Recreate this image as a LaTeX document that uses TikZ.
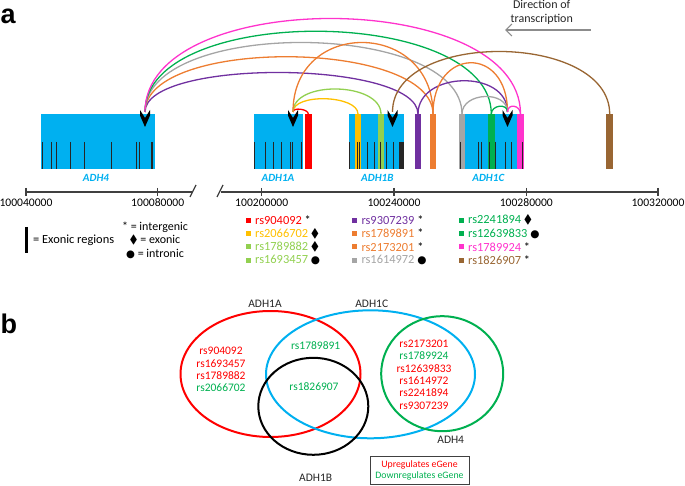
\documentclass[tikz,border=0pt]{standalone}
\usepackage{fontspec}
\usepackage{amssymb}
\setmainfont{Carlito}
\newfontfamily\symfont{DejaVu Sans}
\newfontfamily\panelfont{Liberation Sans}
\usetikzlibrary{arrows.meta,shapes.geometric}

\definecolor{adhblue}{RGB}{0,176,240}
\definecolor{snpred}{RGB}{255,0,0}
\definecolor{snpgold}{RGB}{255,192,0}
\definecolor{snplime}{RGB}{146,208,80}
\definecolor{snppurple}{RGB}{112,48,160}
\definecolor{snporange}{RGB}{237,125,49}
\definecolor{snpgray}{RGB}{165,165,165}
\definecolor{snpgreen}{RGB}{0,176,80}
\definecolor{snppink}{RGB}{255,51,204}
\definecolor{snpbrown}{RGB}{153,102,51}
\definecolor{axisgray}{RGB}{64,64,64}

\newcommand{\intergenic}{*}
\newcommand{\exonic}{$\blacklozenge$}
\newcommand{\intronic}{{\symfont\scalebox{0.85}{●}}}

\tikzset{
  geneblk/.style={fill=adhblue, draw=none, anchor=north west, minimum height=55pt},
  genelbl/.style={font=\fontsize{11}{13}\selectfont\bfseries\itshape, text=adhblue},
  snpbar/.style={draw=none, anchor=north, minimum width=6.5pt, minimum height=55pt},
  exon/.style={black!85, line width=0.8pt},
  link/.style={line width=1.3pt},
  axis/.style={axisgray, line width=1.3pt},
  legsq/.style={minimum size=5pt},
  venn/.style={ellipse, draw, line width=2pt},
  vennlbl/.style={font=\fontsize{11.5}{13}\selectfont, text=black!85},
  venntxt/.style={font=\fontsize{11.5}{12.3}\selectfont, align=center}
}

\begin{document}
\begin{tikzpicture}[x=1pt, y=-1pt, every node/.style={font=\fontsize{12.4}{14}\selectfont, inner sep=0pt}]
\useasboundingbox (0,0) rectangle (685,486);

% panel a
\node[anchor=base west, font=\panelfont\fontsize{27}{27}\selectfont\bfseries] (pa) at (0.5,24) {a};

\node[align=center, font=\fontsize{12}{14}\selectfont, text=black!85] (dirtxt) at (541.7,12) {Direction of\\transcription};
\coordinate (dirS) at (590.7,30);
\coordinate (dirE) at (505,30);
\draw[black!45, line width=1.2pt, -{Straight Barb[length=6pt, width=12pt]}] (dirS) -- (dirE);

\node[geneblk, minimum width=114pt] (g4) at (41,114) {};
\node[geneblk, minimum width=49.4pt] (g1a) at (253.3,114) {};
\node[geneblk, minimum width=55.7pt] (g1b) at (348.3,114) {};
\node[geneblk, minimum width=64.3pt] (g1c) at (459,114) {};

\node[genelbl] (l4) at (96,178) {ADH4};
\node[genelbl] (l1a) at (278,178) {ADH1A};
\node[genelbl] (l1b) at (377.3,178) {ADH1B};
\node[genelbl] (l1c) at (488.3,178) {ADH1C};

\node[snpbar, fill=snpred] (s904092) at (308.3,114) {};
\node[snpbar, fill=snpgold] (s2066702) at (358,114) {};
\node[snpbar, fill=snplime] (s1789882) at (381,114) {};
\node[snpbar, fill=snppurple] (s9307239) at (418,114) {};
\node[snpbar, fill=snporange] (s1789891) at (433,114) {};
\node[snpbar, fill=snpgray] (s1614972) at (462,114) {};
\node[snpbar, fill=snpgreen] (s2241894) at (491.3,114) {};
\node[snpbar, fill=snppink] (s1789924) at (520.5,114) {};
\node[snpbar, fill=snpbrown] (s1826907) at (609.7,114) {};

% exonic regions
\foreach \x in {42.5,51,56,70,84,111,136,139} \draw[exon] (\x,142) -- (\x,169);
\draw[exon, line width=2.5pt] (152,142) -- (152,169);
\foreach \x in {254,265,273.3,281.7,290,292.7,301.7} \draw[exon] (\x,142) -- (\x,169);
\foreach \x in {349,357,359,367.5,374.5,380.5,386.5,393} \draw[exon] (\x,142) -- (\x,169);
\draw[exon, line width=5pt] (401,142) -- (401,169);
\foreach \x in {460,478.3,481.7,489.3,495,505.7,511.7,522.7} \draw[exon] (\x,142) -- (\x,169);

\foreach \n/\x in {v4/145, v1a/293, v1b/392.5, v1c/507.5} \coordinate (\n) at (\x,112);

% eQTL links
\draw[link, snppurple] (v4) .. controls +(0,-54) and +(0,-54) .. (s9307239.north);
\draw[link, snporange] (v4) .. controls +(0,-75) and +(0,-75) .. (s1789891.north);
\draw[link, snpgray] (v4) .. controls +(0,-94) and +(0,-94) .. (s1614972.north);
\draw[link, snpgreen] (v4) .. controls +(0,-109) and +(0,-109) .. (s2241894.north);
\draw[link, snppink] (v4) .. controls +(0,-126) and +(0,-126) .. (s1789924.north);

\draw[link, snpred] (v1a) .. controls +(0,-5) and +(0,-5) .. (s904092.north);
\draw[link, snpgold] (v1a) .. controls +(0,-19) and +(0,-19) .. (s2066702.north);
\draw[link, snplime] (v1a) .. controls +(0,-32) and +(0,-32) .. (s1789882.north);
\draw[link, snporange] (v1a) .. controls +(0,-94) and +(0,-94) .. (s1789891.north);

\draw[link, snpbrown] (s1826907.north) .. controls +(0,-82) and +(0,-82) .. (v1b);

\draw[link, snppurple] (s9307239.north) .. controls +(0,-43) and +(0,-43) .. (v1c);
\draw[link, snporange] (s1789891.north) .. controls +(0,-67) and +(0,-67) .. (v1c);
\draw[link, snpgray] (s1614972.north) .. controls +(0,-22) and +(0,-22) .. (v1c);
\draw[link, snpgreen] (s2241894.north) .. controls +(0,-9) and +(0,-9) .. (v1c);
\draw[link, snppink] (v1c) .. controls +(0,-9) and +(0,-9) .. (s1789924.north);

\foreach \x in {145,293,392.5,507.5}
  \fill (\x-5,110) -- (\x,118) -- (\x+5,110) -- (\x+5,115.5) -- (\x,127) -- (\x-5,115.5) -- cycle;

% axis
\coordinate (ax0) at (25,192);
\coordinate (axb1) at (192,192);
\coordinate (axb2) at (221,192);
\coordinate (ax1) at (659,192);
\draw[axis] (ax0) -- (axb1);
\draw[axis] (axb2) -- (ax1);
\draw[axis] (190,197) -- (196,185);
\draw[axis] (217,197) -- (223,185);
\foreach \x/\pos in {26/100040000, 157.7/100080000, 261.7/100200000, 394/100240000, 526.3/100280000, 658/100320000} {
  \draw[axis] (\x,188) -- (\x,196);
  \node[font=\fontsize{11.6}{13}\selectfont] (t\pos) at (\x,203) {\pos};
}

% legends
\draw[line width=2.5pt] (26.7,227) -- (26.7,253);
\node[anchor=west] (exleg) at (33,240) {= Exonic regions};
\node[align=center, font=\fontsize{12}{13.6}\selectfont] (symleg) at (155,240) {\intergenic{} = intergenic\\ \exonic{} = exonic\\ \intronic{} = intronic};

\foreach \x/\y/\col/\rs/\sym in {248.2/220.3/snpred/904092/\intergenic, 248.2/233.6/snpgold/2066702/\exonic, 248.2/246.9/snplime/1789882/\exonic, 248.2/260.2/snplime/1693457/\intronic,
  354.5/220.3/snppurple/9307239/\intergenic, 354.5/233.6/snporange/1789891/\intergenic, 354.5/246.9/snporange/2173201/\intergenic, 354.5/260.2/snpgray/1614972/\intronic,
  461.2/220.3/snpgreen/2241894/\exonic, 461.2/233.6/snpgreen/12639833/\intronic, 461.2/246.9/snppink/1789924/\intergenic, 461.2/260.2/snpbrown/1826907/\intergenic} {
  \node[legsq, fill=\col] (q\rs) at (\x,\y) {};
  \node[anchor=west, text=\col] (k\rs) at (\x+6.8,\y) {rs\rs~\textcolor{black}{\sym}};
}

% panel b
\node[anchor=base west, font=\panelfont\fontsize{27}{27}\selectfont\bfseries] (pb) at (0.5,333) {b};

\node[venn, snpred, minimum width=180pt, minimum height=126pt] (vA) at (270.5,374) {};
\node[venn, adhblue, minimum width=209pt, minimum height=128pt] (vC) at (370.5,374.3) {};
\node[venn, black, minimum width=110pt, minimum height=97pt] (vB) at (313.3,406.3) {};
\node[venn, snpgreen, minimum width=122pt, minimum height=115pt] (v4g) at (442.2,373.7) {};

\node[vennlbl] (nA) at (265,303.3) {ADH1A};
\node[vennlbl] (nC) at (371.7,304) {ADH1C};
\node[vennlbl] (nB) at (315.7,477.3) {ADH1B};
\node[vennlbl] (n4) at (450.7,440) {ADH4};

\node[venntxt] (setA) at (221,369.7) {\textcolor{snpred}{rs904092}\\ \textcolor{snpred}{rs1693457}\\ \textcolor{snpred}{rs1789882}\\ \textcolor{snpgreen}{rs2066702}};
\node[venntxt, text=snpgreen] (setAC) at (315.7,346) {rs1789891};
\node[venntxt, text=snpgreen] (setABC) at (314,386.7) {rs1826907};
\node[venntxt] (set4C) at (424,374.7) {\textcolor{snpred}{rs2173201}\\ \textcolor{snpgreen}{rs1789924}\\ \textcolor{snpred}{rs12639833}\\ \textcolor{snpred}{rs1614972}\\ \textcolor{snpred}{rs2241894}\\ \textcolor{snpred}{rs9307239}};

\node[draw=black!75, line width=1pt, minimum width=99pt, minimum height=28.3pt, align=center, font=\fontsize{9.8}{11}\selectfont] (effleg) at (419.5,470.8) {\textcolor{snpred}{Upregulates eGene}\\ \textcolor{snpgreen}{Downregulates eGene}};

\end{tikzpicture}
\end{document}
